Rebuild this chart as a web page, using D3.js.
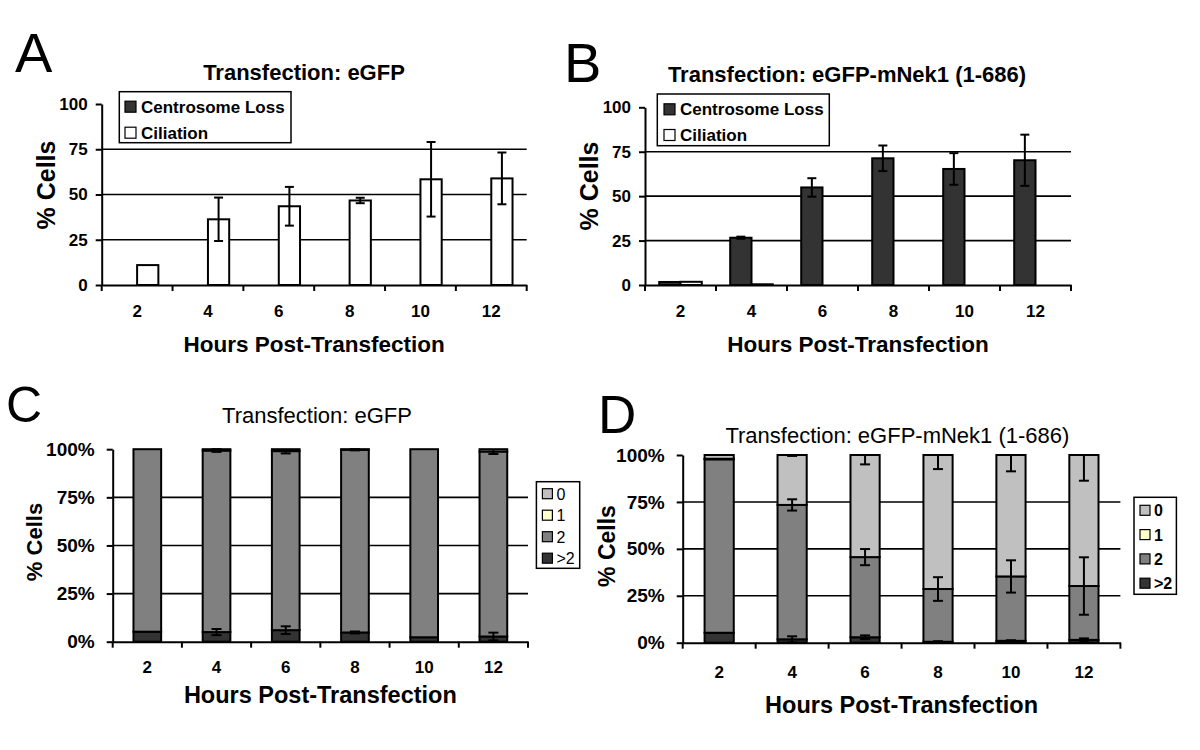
<!DOCTYPE html>
<html>
<head>
<meta charset="utf-8">
<script src="https://cdn.jsdelivr.net/npm/d3@7"></script>
<style>
body { margin: 0; background: #fff; }
svg { font-family: "Liberation Sans", Arial, sans-serif; }
</style>
</head>
<body>
<svg id="fig" width="1200" height="750"></svg>
<script>
// categories and ticks
var hours = ["2", "4", "6", "8", "10", "12"];
var pctTicks = [0, 25, 50, 75, 100];
var groupKeys = ["Centrosome Loss", "Ciliation"];
var groupColors = ["#333333", "#ffffff"];

// panel A: eGFP
var aLoss = [0, 0, 0, 0, 0, 0];
var aLossErr = [0, 0, 0, 0, 0, 0];
var aCil = [11, 36.3, 43.5, 46.7, 58.4, 58.9];
var aCilErr = [0, 12, 10.7, 1.5, 20.6, 14.3];

// panel B: eGFP-mNek1 (1-686)
var bLoss = [1.7, 26.6, 54.9, 71.3, 65.3, 70.2];
var bLossErr = [0, 0.6, 5.2, 7.2, 8.9, 14.4];
var bCil = [1.8, 0.4, 0, 0, 0, 0];
var bCilErr = [0, 0, 0, 0, 0, 0];

// panels C and D: centrosome number, stacked bottom to top
var stackKeys = [">2", "2", "1", "0"];
var legendKeys = ["0", "1", "2", ">2"];
var stackColors = {"0": "#c0c0c0", "1": "#ffffcc", "2": "#808080", ">2": "#333333"};

var cMore = [5.2, 5.0, 6.0, 4.8, 2.3, 2.7];
var cTwo = [94.8, 94.3, 93.0, 94.9, 97.7, 96.1];
var cOne = [0, 0, 0, 0, 0, 0];
var cZero = [0, 0.7, 1.0, 0.3, 0, 1.2];
var cMoreErr = [0, 1.6, 2.0, 0.5, 0, 2.0];
var cTwoErr = [0, 0.7, 1.2, 0.3, 0, 1.3];
var cZeroErr = [0, 0, 0, 0, 0, 0];

var dMore = [5.3, 1.8, 2.9, 0.5, 1.0, 1.5];
var dTwo = [92.4, 71.6, 42.7, 28.1, 34.3, 28.7];
var dOne = [0.3, 0, 0, 0, 0, 0];
var dZero = [2.0, 26.6, 54.4, 71.4, 64.7, 69.8];
var dMoreErr = [0, 1.6, 1.0, 0.3, 0.3, 0.8];
var dTwoErr = [0, 3.0, 4.3, 6.3, 8.6, 15.3];
var dZeroErr = [0, 0.5, 5.0, 7.5, 8.7, 13.7];

var svg = d3.select("#fig");

function errBar(g, cx, y, v, e, cap) {
  if (!e) return;
  var lo = Math.max(0, v - e), hi = Math.min(100, v + e);
  g.append("line").attr("x1", cx).attr("x2", cx).attr("y1", y(lo)).attr("y2", y(hi))
    .attr("stroke", "#000").attr("stroke-width", 2);
  [v - e, v + e].forEach(function(t) {
    if (t < 0 || t > 100) return;
    g.append("line").attr("x1", cx - cap / 2).attr("x2", cx + cap / 2).attr("y1", y(t)).attr("y2", y(t))
      .attr("stroke", "#000").attr("stroke-width", 2);
  });
}

function frame(p, x, y, fmt) {
  var g = svg.append("g");
  // gridlines
  g.selectAll("line.grid").data([25, 50, 75]).join("line")
    .attr("class", "grid")
    .attr("x1", p.left).attr("x2", p.right)
    .attr("y1", function(d) { return y(d); }).attr("y2", function(d) { return y(d); })
    .attr("stroke", "#000").attr("stroke-width", 1.6);
  return g;
}

function axes(p, x, y, fmt) {
  var yAx = svg.append("g").attr("transform", "translate(" + p.left + ",0)")
    .call(d3.axisLeft(y).tickValues(pctTicks).tickSize(6).tickSizeOuter(0).tickPadding(p.yPad).tickFormat(fmt));
  yAx.selectAll("text").attr("font-size", p.yFont).attr("font-weight", "bold").attr("fill", "#000")
    .attr("font-family", "Liberation Sans, Arial, sans-serif");
  yAx.selectAll("line, path").attr("stroke", "#000").attr("stroke-width", 2);

  var xAx = svg.append("g").attr("transform", "translate(0," + p.bottom + ")")
    .call(d3.axisBottom(x).tickSize(0).tickSizeOuter(0).tickPadding(p.xPad));
  xAx.selectAll("text").attr("font-size", p.xFont).attr("font-weight", "bold").attr("fill", "#000")
    .attr("font-family", "Liberation Sans, Arial, sans-serif");
  xAx.select("path").attr("stroke", "#000").attr("stroke-width", 2);
  // tick marks at category boundaries
  var bounds = d3.range(hours.length + 1).map(function(i) { return x.range()[0] + i * x.step(); });
  xAx.selectAll("line.bound").data(bounds).join("line").attr("class", "bound")
    .attr("x1", function(d) { return d; }).attr("x2", function(d) { return d; })
    .attr("y1", 0).attr("y2", 6).attr("stroke", "#000").attr("stroke-width", 2);
}

function labels(p) {
  svg.append("text").attr("x", p.letterX).attr("y", p.letterY).attr("font-size", p.letterSize).text(p.letter);
  svg.append("text").attr("x", p.titleX).attr("y", p.titleY).attr("text-anchor", "middle")
    .attr("font-size", 22).attr("font-weight", p.titleBold ? "bold" : "normal").text(p.title);
  svg.append("text").attr("x", (p.left + p.right) / 2).attr("y", p.xTitleY).attr("text-anchor", "middle")
    .attr("font-size", p.xTitleSize).attr("font-weight", "bold").text("Hours Post-Transfection");
  svg.append("text").attr("transform", "translate(" + p.yTitleX + "," + p.yTitleY + ") rotate(-90)")
    .attr("text-anchor", "middle").attr("font-size", p.yTitleSize).attr("font-weight", "bold").text("% Cells");
}

function grouped(p, vals, errs) {
  var x = d3.scaleBand().domain(hours).range([p.left, p.right]);
  var xs = d3.scaleBand().domain(groupKeys).range([0, x.bandwidth()]).paddingOuter(0.667);
  var y = d3.scaleLinear().domain([0, 100]).range([p.bottom, p.top]);
  var g = frame(p, x, y);
  groupKeys.forEach(function(k, ki) {
    g.selectAll("rect.s" + ki).data(vals[ki]).join("rect").attr("class", "s" + ki)
      .attr("x", function(d, i) { return x(hours[i]) + xs(k); })
      .attr("width", xs.bandwidth())
      .attr("y", function(d) { return y(d); })
      .attr("height", function(d) { return y(0) - y(d); })
      .attr("fill", groupColors[ki]).attr("stroke", "#000").attr("stroke-width", 2);
    vals[ki].forEach(function(v, i) {
      errBar(g, x(hours[i]) + xs(k) + xs.bandwidth() / 2, y, v, errs[ki][i], 9);
    });
  });
  axes(p, x, y, d3.format("d"));
  labels(p);
  // legend
  var L = p.legend;
  var lg = svg.append("g");
  lg.append("rect").attr("x", L.x).attr("y", L.y).attr("width", L.w).attr("height", L.h)
    .attr("fill", "#fff").attr("stroke", "#000").attr("stroke-width", 1.5);
  groupKeys.forEach(function(k, i) {
    var cy = L.y + L.row0 + i * L.dy;
    lg.append("rect").attr("x", L.sx).attr("y", cy - 5.5).attr("width", 11).attr("height", 11)
      .attr("fill", groupColors[i]).attr("stroke", "#000").attr("stroke-width", 1.2);
    lg.append("text").attr("x", L.sx + 16).attr("y", cy + 6).attr("font-size", 17).attr("font-weight", "bold").text(k);
  });
}

function stacked(p, cols, errs) {
  var x = d3.scaleBand().domain(hours).range([p.left, p.right]).paddingInner(0.6).paddingOuter(0.3);
  var y = d3.scaleLinear().domain([0, 100]).range([p.bottom, p.top]);
  var table = hours.map(function(h, i) {
    var row = {hour: h};
    stackKeys.forEach(function(k) { row[k] = cols[k][i]; });
    return row;
  });
  var series = d3.stack().keys(stackKeys)(table);
  var g = frame(p, x, y);
  series.forEach(function(s) {
    g.selectAll("rect.k" + stackKeys.indexOf(s.key)).data(s).join("rect")
      .attr("class", "k" + stackKeys.indexOf(s.key))
      .attr("x", function(d) { return x(d.data.hour); })
      .attr("width", x.bandwidth())
      .attr("y", function(d) { return y(d[1]); })
      .attr("height", function(d) { return y(d[0]) - y(d[1]); })
      .attr("fill", stackColors[s.key]).attr("stroke", "#000").attr("stroke-width", 2);
  });
  series.forEach(function(s) {
    if (!errs[s.key]) return;
    s.forEach(function(d, i) {
      errBar(g, x(d.data.hour) + x.bandwidth() / 2, y, d[1], errs[s.key][i], 10);
    });
  });
  axes(p, x, y, function(d) { return d + "%"; });
  labels(p);
  var L = p.legend;
  var lg = svg.append("g");
  lg.append("rect").attr("x", L.x).attr("y", L.y).attr("width", L.w).attr("height", L.h)
    .attr("fill", "#fff").attr("stroke", "#000").attr("stroke-width", 1.5);
  legendKeys.forEach(function(k, i) {
    var cy = L.y + L.row0 + i * L.dy;
    lg.append("rect").attr("x", L.x + 6).attr("y", cy - 5).attr("width", 10).attr("height", 10)
      .attr("fill", stackColors[k]).attr("stroke", "#000").attr("stroke-width", 1.2);
    lg.append("text").attr("x", L.x + 20).attr("y", cy + 6).attr("font-size", 16)
      .attr("font-weight", L.bold ? "bold" : "normal").text(k);
  });
}

grouped({
  left: 101.7, right: 526.7, top: 104, bottom: 285,
  yPad: 8, yFont: 17, xPad: 19.5, xFont: 17,
  letter: "A", letterX: 15, letterY: 72, letterSize: 56,
  title: "Transfection: eGFP", titleBold: true, titleX: 304, titleY: 80,
  xTitleY: 352, xTitleSize: 22.5, yTitleX: 55, yTitleY: 185, yTitleSize: 25,
  legend: {x: 119.3, y: 91.7, w: 171.7, h: 51, row0: 15, dy: 26, sx: 125}
}, [aLoss, aCil], [aLossErr, aCilErr]);

grouped({
  left: 645, right: 1071, top: 107.3, bottom: 285,
  yPad: 8, yFont: 17, xPad: 19.5, xFont: 17,
  letter: "B", letterX: 564, letterY: 82, letterSize: 56,
  title: "Transfection: eGFP-mNek1 (1-686)", titleBold: true, titleX: 847, titleY: 81.7,
  xTitleY: 352, xTitleSize: 22.5, yTitleX: 598, yTitleY: 186, yTitleSize: 25,
  legend: {x: 657.3, y: 94, w: 172, h: 51.7, row0: 15.3, dy: 25.7, sx: 664}
}, [bLoss, bCil], [bLossErr, bCilErr]);

stacked({
  left: 112.7, right: 528, top: 449.2, bottom: 641.7,
  yPad: 12, yFont: 19, xPad: 19.5, xFont: 17,
  letter: "C", letterX: 6, letterY: 422, letterSize: 50,
  title: "Transfection: eGFP", titleBold: false, titleX: 317, titleY: 422.7,
  xTitleY: 703.3, xTitleSize: 23.5, yTitleX: 42, yTitleY: 542, yTitleSize: 22,
  legend: {x: 536.4, y: 481.7, w: 43.3, h: 86.6, row0: 12, dy: 21.5, bold: false}
}, {">2": cMore, "2": cTwo, "1": cOne, "0": cZero}, {">2": cMoreErr, "2": cTwoErr, "0": cZeroErr});

stacked({
  left: 682.7, right: 1120.4, top: 455, bottom: 642.7,
  yPad: 12, yFont: 19, xPad: 23, xFont: 17,
  letter: "D", letterX: 598, letterY: 433, letterSize: 53,
  title: "Transfection: eGFP-mNek1 (1-686)", titleBold: false, titleX: 897.4, titleY: 443.3,
  xTitleY: 713.3, xTitleSize: 23.5, yTitleX: 615, yTitleY: 546, yTitleSize: 23,
  legend: {x: 1134, y: 497.3, w: 42.4, h: 97, row0: 13, dy: 24.3, bold: true}
}, {">2": dMore, "2": dTwo, "1": dOne, "0": dZero}, {">2": dMoreErr, "2": dTwoErr, "0": dZeroErr});
</script>
</body>
</html>
